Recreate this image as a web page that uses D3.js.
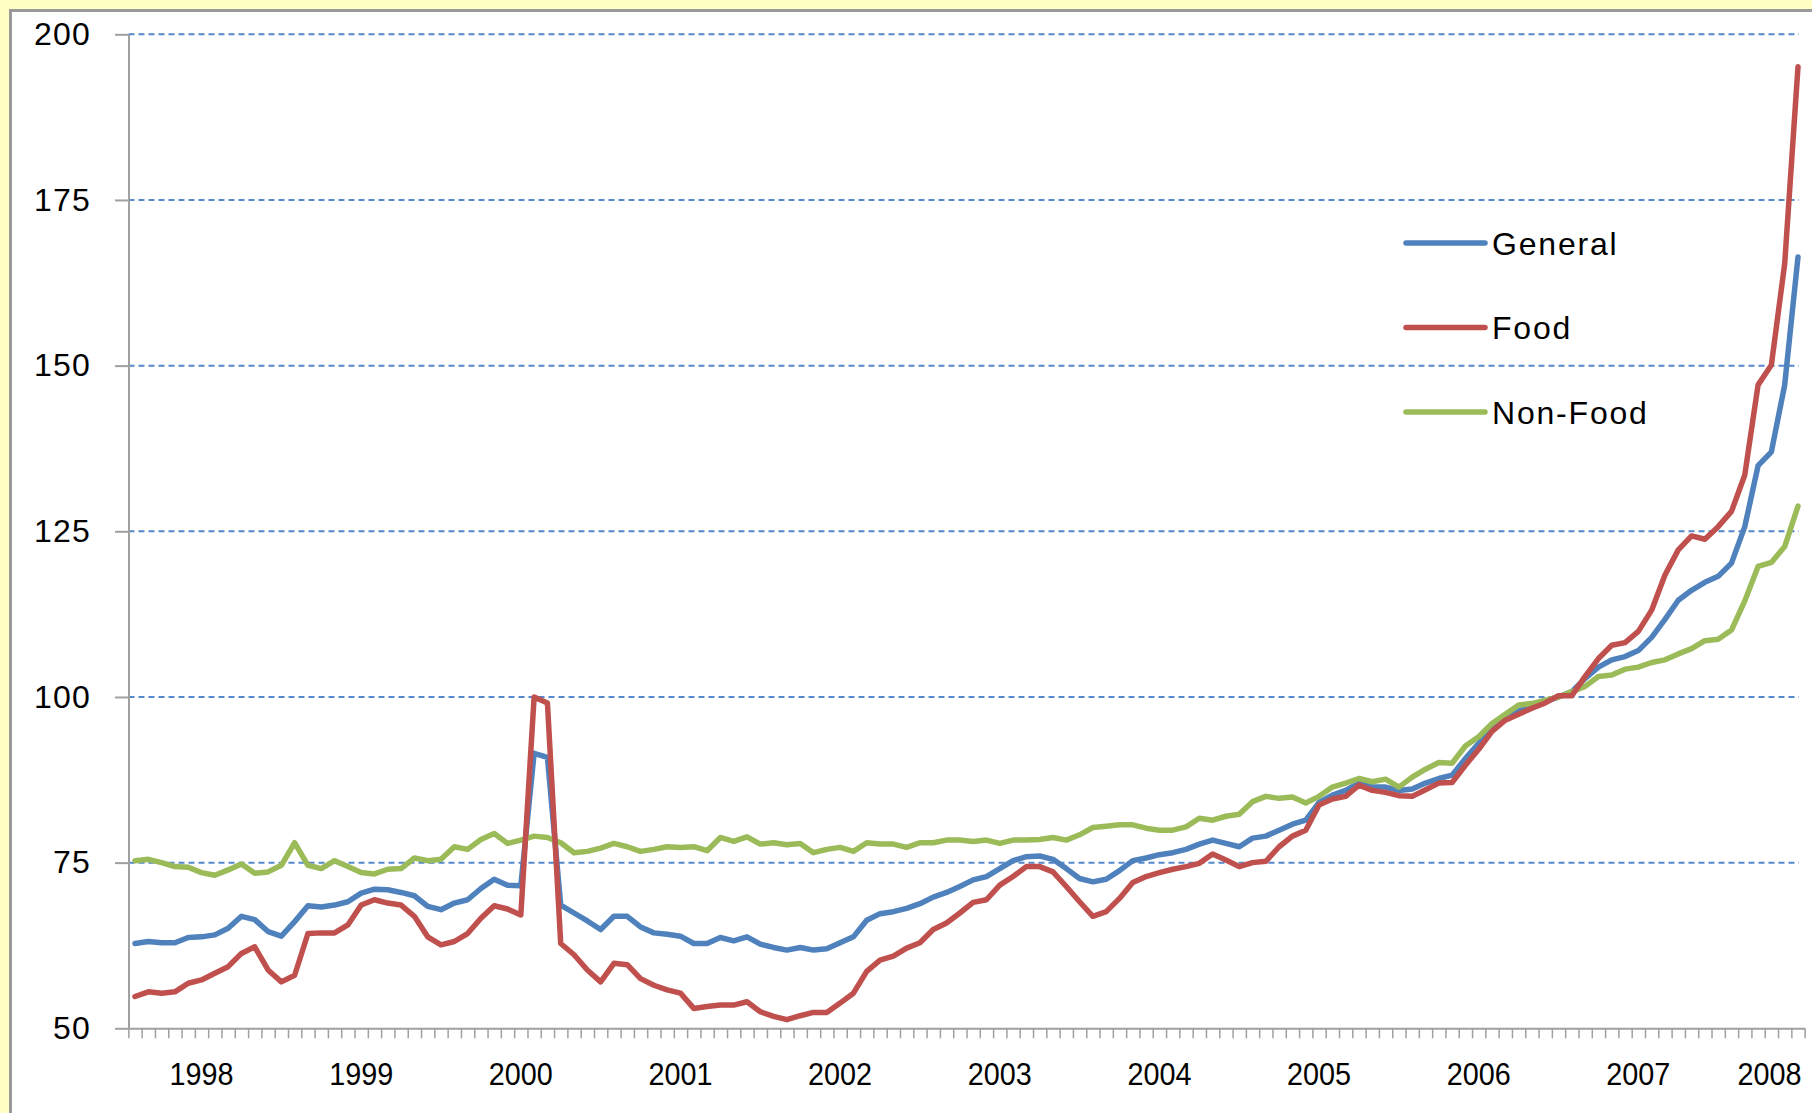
<!DOCTYPE html>
<html><head><meta charset="utf-8">
<script src="https://cdn.jsdelivr.net/npm/d3@7"></script>
<style>
html,body{margin:0;padding:0;background:#ffffc4;}
svg{display:block;}
text{font-family:"Liberation Sans",Arial,sans-serif;fill:#000;}
</style></head><body>
<svg id="c" width="1812" height="1113"></svg>
<script>
// ---- data ----
const yearLabels = ["1998","1999","2000","2001","2002","2003","2004","2005","2006","2007","2008"];
const monthsPerYear = [12,12,12,12,12,12,12,12,12,12,6];
const yTicks = [50,75,100,125,150,175,200];
const seriesNames = ["General","Food","Non-Food"];

const general = [62.8,63.1,62.9,62.9,63.7,63.8,64.1,65.1,66.9,66.4,
64.6,63.9,66.1,68.5,68.3,68.6,69.1,70.4,71.0,70.9,
70.5,70.0,68.4,67.9,68.9,69.4,71.1,72.5,71.6,71.5,
91.5,90.9,68.6,67.4,66.2,64.9,66.9,66.9,65.3,64.4,
64.2,63.9,62.8,62.8,63.7,63.2,63.8,62.7,62.2,61.8,
62.2,61.8,62.0,62.9,63.8,66.3,67.3,67.6,68.1,68.8,
69.8,70.5,71.4,72.4,72.9,74.1,75.3,75.9,76.0,75.5,
74.1,72.6,72.1,72.5,73.8,75.3,75.7,76.2,76.5,77.0,
77.8,78.4,77.9,77.4,78.7,79.0,79.9,80.8,81.4,84.1,
85.2,85.9,87.0,86.4,86.4,85.9,86.1,87.0,87.7,88.2,
90.7,93.0,95.3,96.9,97.9,98.5,99.3,100.0,100.8,102.8,
104.5,105.6,106.1,107.0,109.0,111.7,114.6,116.1,117.3,118.2,
120.2,125.7,134.9,137.0,147.1,166.4];

const food = [54.8,55.5,55.3,55.5,56.8,57.3,58.3,59.3,61.3,62.3,
58.8,57.0,58.0,64.3,64.4,64.4,65.6,68.6,69.4,68.9,
68.6,66.9,63.8,62.6,63.1,64.3,66.6,68.5,68.0,67.1,
100.0,99.1,62.8,61.1,58.8,57.0,59.8,59.6,57.5,56.5,
55.8,55.3,53.0,53.3,53.5,53.5,54.0,52.5,51.8,51.3,
51.9,52.4,52.4,53.8,55.3,58.6,60.3,60.9,62.1,62.9,
64.9,65.9,67.4,69.0,69.4,71.6,72.9,74.4,74.4,73.6,
71.4,69.1,66.9,67.6,69.6,72.0,72.9,73.5,74.0,74.4,
74.9,76.3,75.4,74.4,75.0,75.2,77.4,79.0,79.9,83.7,
84.6,85.0,86.7,85.9,85.6,85.1,85.0,86.0,87.0,87.1,
89.7,92.1,94.8,96.5,97.4,98.3,99.1,100.2,100.2,103.1,
105.8,107.8,108.2,109.9,113.1,118.4,122.2,124.3,123.8,125.7,
128.0,133.5,147.1,150.1,165.4,195.1];

const nonFood = [75.3,75.5,75.0,74.4,74.3,73.5,73.1,73.9,74.8,73.4,
73.6,74.6,78.0,74.6,74.1,75.3,74.4,73.5,73.3,74.0,
74.1,75.7,75.3,75.5,77.4,77.0,78.5,79.4,77.9,78.4,
79.0,78.8,78.0,76.5,76.7,77.2,77.9,77.4,76.7,77.0,
77.4,77.3,77.4,76.8,78.8,78.2,78.9,77.8,78.0,77.7,
77.9,76.5,77.0,77.3,76.7,78.0,77.8,77.8,77.3,78.0,
78.0,78.4,78.4,78.2,78.4,77.9,78.4,78.4,78.5,78.8,
78.4,79.2,80.3,80.5,80.7,80.7,80.2,79.9,79.9,80.4,
81.7,81.4,82.0,82.3,84.2,85.0,84.7,84.9,84.0,85.0,
86.4,87.0,87.7,87.2,87.6,86.4,87.9,89.1,90.1,90.0,
92.6,94.0,96.0,97.4,98.8,99.0,99.5,100.0,100.8,101.6,
103.1,103.3,104.2,104.5,105.2,105.6,106.5,107.3,108.5,108.7,
110.1,114.5,119.7,120.3,122.7,128.8];

const colors = ["#4F81BD","#C0504D","#9BBB59"];

// ---- build ----
const categories = [];
yearLabels.forEach((yr,k)=>{ for(let m=0;m<monthsPerYear[k];m++) categories.push(yr+"-"+String(m+1).padStart(2,"0")); });
const n = categories.length;

const svg = d3.select("#c");
svg.append("rect").attr("width",1812).attr("height",1113).attr("fill","#ffffc4");
svg.append("rect").attr("x",12).attr("y",12).attr("width",1800).attr("height",1101).attr("fill","#ffffff");
svg.append("path").attr("d","M10.5,1113V10.5H1812").attr("fill","none").attr("stroke","#9a9a9a").attr("stroke-width",3);

const x = d3.scaleLinear().domain([-0.5, n-0.5]).range([128.35, 1804.65]);
const y = d3.scaleLinear().domain([50,200]).range([1028.3, 34.3]);
const axisX = 128.5, gridRight = 1799;

// gridlines
svg.append("g").selectAll("line").data(yTicks.filter(v=>v>50)).join("line")
  .attr("x1",axisX).attr("x2",gridRight)
  .attr("y1",d=>y(d)).attr("y2",d=>y(d))
  .attr("stroke","#5588cc").attr("stroke-width",2).attr("stroke-dasharray","6,4");

// y axis
const gy = svg.append("g").attr("transform",`translate(${axisX},0)`)
  .call(d3.axisLeft(y).tickValues(yTicks).tickSize(13.5).tickSizeOuter(0).tickPadding(24).tickFormat(d3.format("d")));
gy.select(".domain").attr("stroke","#a0a0a0").attr("stroke-width",2);
gy.selectAll(".tick line").attr("stroke","#a0a0a0").attr("stroke-width",2);
gy.selectAll(".tick text").attr("font-size",32).attr("letter-spacing","1.2px").attr("fill","#000")
  .style("font-family","'Liberation Sans',Arial,sans-serif");

// x axis with month tick marks
const gx = svg.append("g").attr("transform",`translate(0,${y(50)})`)
  .call(d3.axisBottom(x).tickValues(d3.range(-0.5, n, 1)).tickSize(10).tickSizeOuter(0).tickFormat(""));
gx.select(".domain").attr("stroke","#a0a0a0").attr("stroke-width",2);
gx.selectAll(".tick line").attr("stroke","#a0a0a0").attr("stroke-width",1.5);

// year labels
let start = 0;
const yearPos = yearLabels.map((yr,k)=>{
  let cx = x(start + Math.min(5, monthsPerYear[k]-1));
  cx = Math.min(cx, 1802 - 32.5);
  start += monthsPerYear[k];
  return {yr, cx};
});
svg.append("g").selectAll("text").data(yearPos).join("text")
  .attr("x",d=>d.cx).attr("y",1085).attr("text-anchor","middle")
  .attr("font-size",32).attr("textLength",64).attr("lengthAdjust","spacingAndGlyphs")
  .attr("fill","#111")
  .text(d=>d.yr);

// lines
const series = [general, food, nonFood];
const line = d3.line().x((d,i)=>x(i)).y(d=>y(d));
const drawOrder = [0,2,1];
svg.append("g").selectAll("path").data(drawOrder).join("path")
  .attr("d",j=>line(series[j]))
  .attr("fill","none").attr("stroke",j=>colors[j]).attr("stroke-width",5.5)
  .attr("stroke-linejoin","round").attr("stroke-linecap","round");

// legend
const leg = svg.append("g").selectAll("g").data(seriesNames).join("g")
  .attr("transform",(d,j)=>`translate(1406,${243 + j*84.5})`);
leg.append("line").attr("x1",0).attr("x2",79).attr("y1",0).attr("y2",0)
  .attr("stroke",(d,j)=>colors[j]).attr("stroke-width",5.5).attr("stroke-linecap","round");
leg.append("text").attr("x",86).attr("y",11.5).attr("font-size",32).attr("letter-spacing","1.8px").text(d=>d);
</script>
</body></html>
